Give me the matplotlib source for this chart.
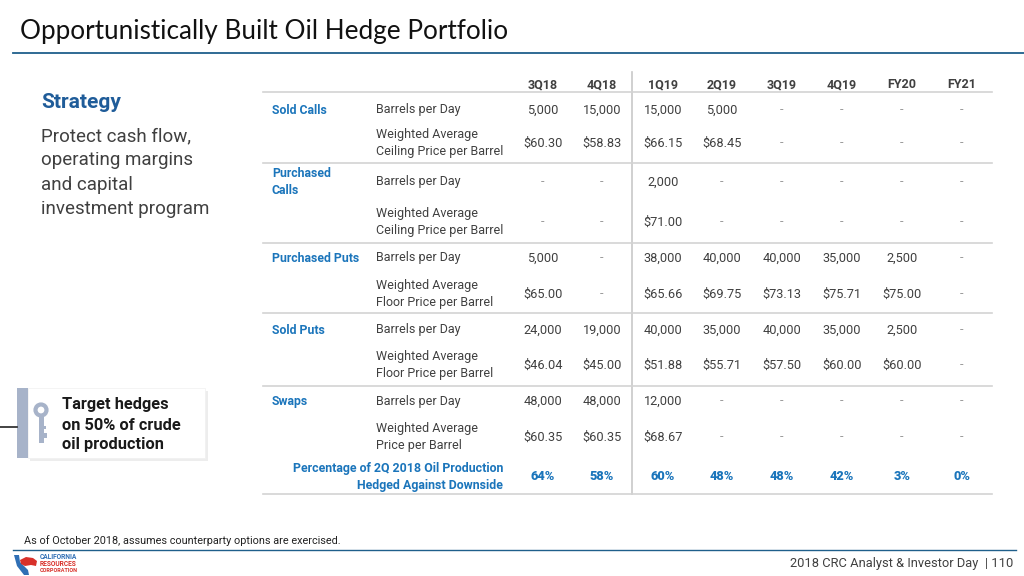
import matplotlib
matplotlib.use("Agg")
import matplotlib.pyplot as plt
from matplotlib.patches import Rectangle, Circle, Polygon

# table data
periods = ["3Q18", "4Q18", "1Q19", "2Q19", "3Q19", "4Q19", "FY20", "FY21"]
groups = ["Sold Calls", "Purchased\nCalls", "Purchased Puts", "Sold Puts", "Swaps"]
row_labels = [
    ["Barrels per Day", "Weighted Average\nCeiling Price per Barrel"],
    ["Barrels per Day", "Weighted Average\nCeiling Price per Barrel"],
    ["Barrels per Day", "Weighted Average\nFloor Price per Barrel"],
    ["Barrels per Day", "Weighted Average\nFloor Price per Barrel"],
    ["Barrels per Day", "Weighted Average\nPrice per Barrel"],
]
sold_calls_bpd = ["5,000", "15,000", "15,000", "5,000", "-", "-", "-", "-"]
sold_calls_price = ["$60.30", "$58.83", "$66.15", "$68.45", "-", "-", "-", "-"]
purch_calls_bpd = ["-", "-", "2,000", "-", "-", "-", "-", "-"]
purch_calls_price = ["-", "-", "$71.00", "-", "-", "-", "-", "-"]
purch_puts_bpd = ["5,000", "-", "38,000", "40,000", "40,000", "35,000", "2,500", "-"]
purch_puts_price = ["$65.00", "-", "$65.66", "$69.75", "$73.13", "$75.71", "$75.00", "-"]
sold_puts_bpd = ["24,000", "19,000", "40,000", "35,000", "40,000", "35,000", "2,500", "-"]
sold_puts_price = ["$46.04", "$45.00", "$51.88", "$55.71", "$57.50", "$60.00", "$60.00", "-"]
swaps_bpd = ["48,000", "48,000", "12,000", "-", "-", "-", "-", "-"]
swaps_price = ["$60.35", "$60.35", "$68.67", "-", "-", "-", "-", "-"]
pct_hedged = ["64%", "58%", "60%", "48%", "48%", "42%", "3%", "0%"]

values = [
    [sold_calls_bpd, sold_calls_price],
    [purch_calls_bpd, purch_calls_price],
    [purch_puts_bpd, purch_puts_price],
    [sold_puts_bpd, sold_puts_price],
    [swaps_bpd, swaps_price],
]

strategy_lines = ["Protect cash flow,", "operating margins", "and capital", "investment program"]

GRAY = "#404040"
BLUE = "#1b75bb"
DARKBLUE = "#1f5c99"
LINE = "#d3d3d3"
BODY = ["Roboto", "DejaVu Sans"]

fig = plt.figure(figsize=(10.24, 5.76), dpi=100)
ax = fig.add_axes([0, 0, 1, 1])
ax.set_xlim(0, 1024)
ax.set_ylim(576, 0)
ax.axis("off")

# title and rules
ax.text(20, 31, "Opportunistically Built Oil Hedge Portfolio", fontsize=18.8,
        family=["Lato", "DejaVu Sans"], color="#111111", va="center")
ax.plot([13, 1024], [53, 53], color="#1f5f8b", lw=1.3)
ax.plot([13, 1016], [550, 550], color="#1f5f8b", lw=1.0)

# left strategy text
ax.text(41, 102, "Strategy", fontsize=15, fontweight="bold", color=DARKBLUE,
        family=BODY, va="center")
for i, line in enumerate(strategy_lines):
    ax.text(41, 136 + i * 24.3, line, fontsize=13.5, color=GRAY, family=BODY, va="center")

# target hedges card
ax.add_patch(Rectangle((30, 391), 178, 70, color="#000000", alpha=0.07, lw=0))
ax.add_patch(Rectangle((28, 388), 177, 70, facecolor="white", edgecolor="#f0f0f0", lw=0.5))
ax.add_patch(Rectangle((17, 388), 11, 70, color="#a7b3c9", lw=0))
ax.plot([0, 17], [427, 427], color="#222222", lw=1.2)
key = "#a7b3c9"
ax.add_patch(Circle((41, 410), 5.5, facecolor="none", edgecolor=key, lw=3))
ax.add_patch(Rectangle((38.5, 416), 5, 27, color=key, lw=0))
ax.add_patch(Rectangle((43, 426), 3, 3, color=key, lw=0))
ax.add_patch(Rectangle((43, 433), 4, 5, color=key, lw=0))
for i, line in enumerate(["Target hedges", "on 50% of crude", "oil production"]):
    ax.text(62, 405 + i * 20, line, fontsize=11.8, fontweight="bold", color="#1a1a1a",
            family=BODY, va="center")

# table
col_x = [543, 602, 663, 722, 782, 842, 902, 962]
ax.plot([632, 632], [72, 494], color="#c8c8c8", lw=1.2)
for xc, p in zip(col_x, periods):
    ax.text(xc, 85, p, fontsize=9, fontweight="bold", color=GRAY, family=BODY,
            ha="center", va="center")
ax.plot([263, 992], [92, 92], color=LINE, lw=1.2)

block_rows = [(110, 143), (182, 222), (258, 294), (330, 365), (401, 437)]
group_y = [110, 182, 258, 330, 401]
block_lines = [163, 243, 313, 386, 494]
for g, (ys, gy, ly) in enumerate(zip(block_rows, group_y, block_lines)):
    ax.text(272, gy, groups[g], fontsize=8.8, fontweight="bold", color=BLUE, family=BODY,
            va="center", linespacing=1.35)
    for r in range(2):
        ax.text(376, ys[r], row_labels[g][r], fontsize=9, color=GRAY, family=BODY,
                va="center", linespacing=1.4)
        for xc, v in zip(col_x, values[g][r]):
            ax.text(xc, ys[r], v, fontsize=9.2, color=GRAY if v != "-" else "#9a9a9a",
                    family=BODY, ha="center", va="center")
    ax.plot([263, 992], [ly, ly], color=LINE, lw=1.2)

ax.text(503, 477, "Percentage of 2Q 2018 Oil Production\nHedged Against Downside", fontsize=8.9,
        fontweight="bold", color=BLUE, family=BODY, ha="right", va="center", linespacing=1.4)
for xc, v in zip(col_x, pct_hedged):
    ax.text(xc, 477, v, fontsize=9.2, fontweight="heavy", color=BLUE, family=BODY,
            ha="center", va="center")

# footnote and footer
ax.text(24, 541, "As of October 2018, assumes counterparty options are exercised.", fontsize=7.8,
        color="#222222", family=BODY, va="center")
ax.text(1013, 564, "2018 CRC Analyst & Investor Day  | 110", fontsize=9.3, color=GRAY,
        family=BODY, ha="right", va="center")

# logo
ax.add_patch(Polygon([[14, 555], [19, 555], [20, 562], [28, 570], [29, 575], [24, 575], [17, 566]],
                     color="#2f6fb5", lw=0))
ax.add_patch(Polygon([[20, 560], [26, 557], [33, 558], [37, 561], [36, 566], [31, 565], [25, 566],
                      [21, 564]], color="#d8312a", lw=0))
ax.text(40, 557, "CALIFORNIA", fontsize=4.8, color="#2f6fb5", family=BODY, va="center",
        fontweight="bold")
ax.text(40, 564, "RESOURCES", fontsize=4.8, color="#d8312a", family=BODY, va="center",
        fontweight="bold")
ax.text(40, 571, "CORPORATION", fontsize=4.0, color="#d8312a", family=BODY, va="center",
        fontweight="bold")

fig.savefig("out.png", dpi=100)
